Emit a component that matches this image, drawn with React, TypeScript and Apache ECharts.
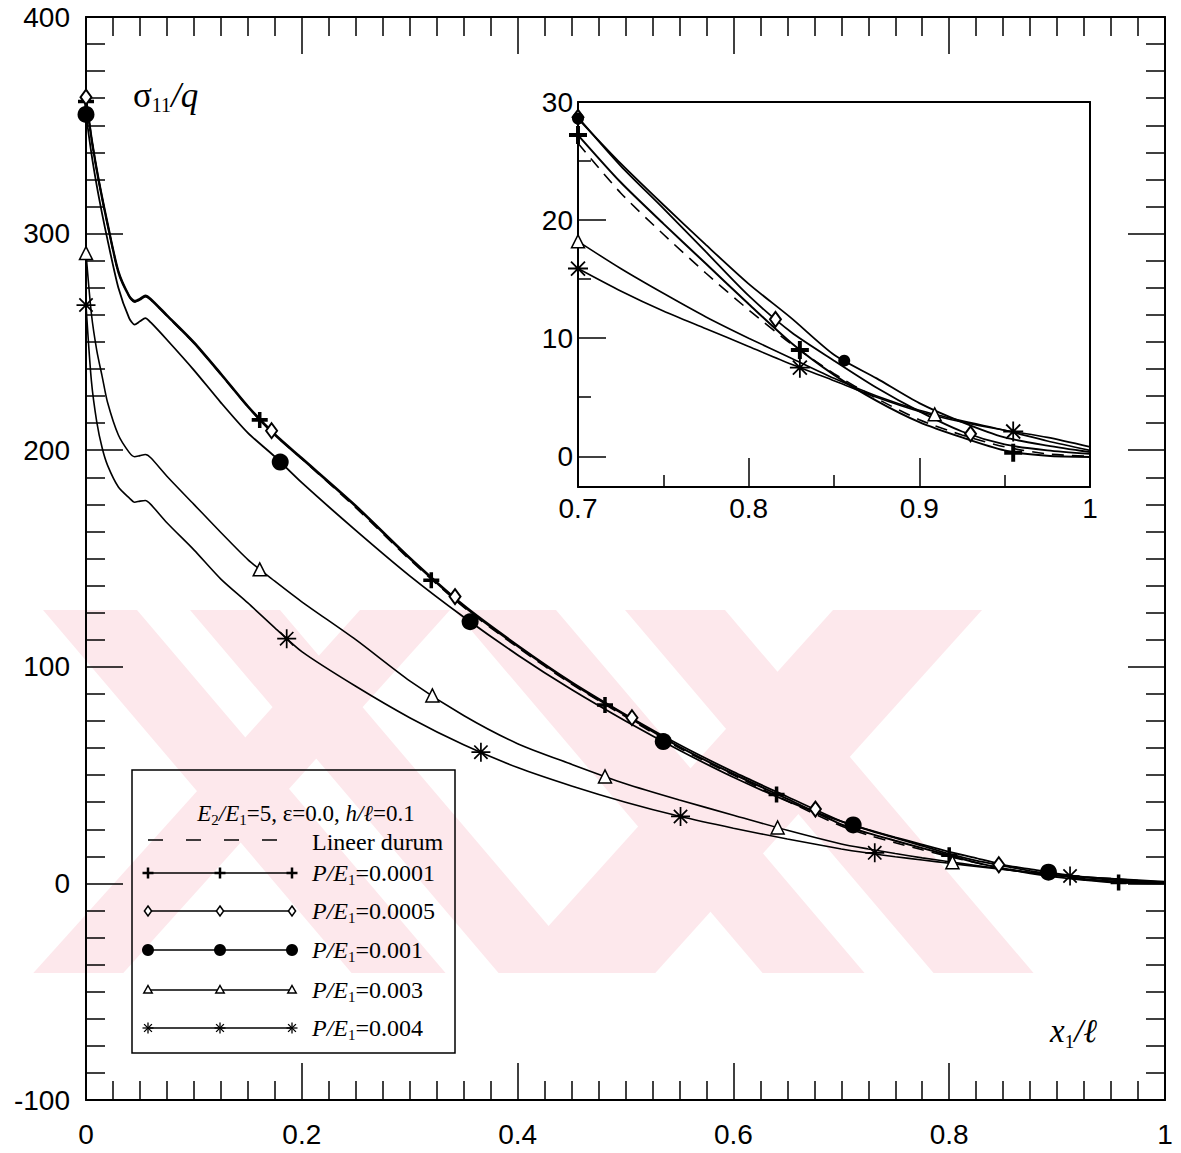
import React, { useEffect, useRef } from 'react';
import * as echarts from 'echarts';

// ---------- data ----------
const xs = [0, 0.005, 0.01, 0.015, 0.02, 0.03, 0.04, 0.045, 0.05, 0.055, 0.06, 0.075, 0.1, 0.125, 0.15, 0.175, 0.2, 0.25, 0.3, 0.35, 0.4, 0.45, 0.5, 0.55, 0.6, 0.65, 0.7, 0.725, 0.75, 0.775, 0.8, 0.825, 0.85, 0.875, 0.9, 0.925, 0.95, 0.975, 1.0];

const linY = [362, 344, 329, 316, 304, 282, 271, 268.5, 269.5, 271, 269.5, 262, 249.5, 235, 220, 207, 196, 173.5, 149.5, 127.5, 109, 92, 77, 62.5, 50, 38, 26.5, 22.3, 18.8, 15.5, 12.4, 9.5, 7.0, 4.9, 3.1, 1.8, 0.8, 0.2, 0];
const p0001Y = [362, 344, 329, 316, 304, 282, 271, 268.5, 269.5, 271, 269.5, 262, 249.5, 235, 220, 207, 196, 174, 150, 128, 109.5, 92.5, 77.5, 63, 50.5, 39, 27.2, 23.2, 19.7, 16.3, 12.9, 9.6, 6.9, 4.7, 2.9, 1.6, 0.5, 0.05, -0.05];
const p0005Y = [363, 345, 330, 317, 305, 283, 271.5, 269, 270, 271.5, 270, 262.5, 250, 235.5, 220.5, 207.5, 196.5, 174.5, 150.5, 128.5, 110, 93, 78, 64, 51.5, 40, 28.7, 24.6, 21.0, 17.3, 13.6, 10.5, 8.1, 5.8, 3.8, 2.1, 1.0, 0.5, 0.2];
const p001Y = [355, 337, 322, 309, 297, 275, 261, 258, 259.5, 261, 259, 251, 237, 222, 208, 197, 185, 163, 142, 123, 105.5, 89.5, 75, 61.5, 49, 38, 28.6, 24.8, 21.3, 17.9, 14.6, 11.7, 8.6, 6.6, 4.5, 2.9, 1.6, 0.9, 0.35];
const p003Y = [291, 263, 246, 234, 222, 207, 199, 197, 197.5, 198, 196.5, 188, 175, 162, 149.5, 139.5, 130, 112.5, 93.5, 77.5, 64.5, 55, 46, 38.5, 31.5, 24.5, 18.2, 15.9, 13.8, 11.8, 10.0, 8.3, 6.6, 5.1, 3.9, 3.0, 2.2, 1.3, 0.5];
const p004Y = [267, 232, 213, 201, 193, 183, 178, 176, 176.5, 176.8, 175, 166.5, 154, 140.5, 129.5, 118, 107, 91, 76.5, 64, 53.5, 45, 37.5, 31, 25.5, 20.5, 15.9, 14.0, 12.3, 10.8, 9.3, 7.8, 6.4, 5.0, 3.8, 2.9, 2.2, 1.6, 0.8];

// marker positions in the main plot
const p0001MkX = [0, 0.161, 0.32, 0.481, 0.64, 0.8, 0.957];
const p0001MkY = [361, 214, 140, 82.4, 41, 13, 0.4];
const p0005MkX = [0, 0.172, 0.342, 0.506, 0.676, 0.846];
const p0005MkY = [363, 209, 132.4, 76.5, 34.3, 8.6];
const p001MkX = [0, 0.18, 0.356, 0.535, 0.711, 0.892];
const p001MkY = [355, 194.5, 120.8, 65.5, 27, 5.2];
const p003MkX = [0, 0.161, 0.321, 0.481, 0.641, 0.803];
const p003MkY = [291, 145, 86.8, 49.4, 25.8, 9.8];
const p004MkX = [0, 0.186, 0.366, 0.551, 0.731, 0.912];
const p004MkY = [267, 113, 60.6, 30.9, 14.1, 3.4];

// marker positions in the inset
const p0001InX = [0.7, 0.83, 0.955];
const p0001InY = [27.2, 9.0, 0.3];
const p0005InX = [0.7, 0.8157, 0.93];
const p0005InY = [28.7, 11.6, 1.9];
const p001InX = [0.7, 0.856];
const p001InY = [28.6, 8.1];
const p003InX = [0.7, 0.909];
const p003InY = [18.2, 3.55];
const p004InX = [0.7, 0.83, 0.955];
const p004InY = [15.9, 7.5, 2.1];

const insetYLabels = [0, 10, 20, 30];
const insetYMajor = [0, 10, 20];
const insetYMinor = [5, 15, 25];

const legendLabels = ['Lineer durum', '0.0001', '0.0005', '0.001', '0.003', '0.004'];

// ---------- styles ----------
const SANS = '"Liberation Sans", Arial, sans-serif';
const SERIF = '"Liberation Serif", "Times New Roman", serif';
const PLUS = 'path://M3.9,0H6.1V3.9H10V6.1H6.1V10H3.9V6.1H0V3.9H3.9Z';
const STAR = 'path://M4.55,0H5.45V10H4.55Z M0,4.55H10V5.45H0Z M1.82,1.18L8.82,8.18L8.18,8.82L1.18,1.82Z M8.18,1.18L8.82,1.82L1.82,8.82L1.18,8.18Z';
const PINK = '#fde8ec';

const pairs = (a: number[], b: number[]) => a.map((x, i) => [x, b[i]]);

const curves = [
  { ys: linY, dash: true, width: 1.6 },
  { ys: p0001Y, dash: false, width: 2 },
  { ys: p0005Y, dash: false, width: 1.8 },
  { ys: p001Y, dash: false, width: 1.8 },
  { ys: p003Y, dash: false, width: 1.6 },
  { ys: p004Y, dash: false, width: 1.6 },
];

const markerSets = [
  { mx: p0001MkX, my: p0001MkY, ix: p0001InX, iy: p0001InY, symbol: PLUS, size: 16, inSize: 18, fill: '#000', bw: 0 },
  { mx: p0005MkX, my: p0005MkY, ix: p0005InX, iy: p0005InY, symbol: 'diamond', size: [11, 15], inSize: [11, 15], fill: '#fff', bw: 2 },
  { mx: p001MkX, my: p001MkY, ix: p001InX, iy: p001InY, symbol: 'circle', size: 17, inSize: 12, fill: '#000', bw: 0 },
  { mx: p003MkX, my: p003MkY, ix: p003InX, iy: p003InY, symbol: 'triangle', size: 13, inSize: 13, fill: '#fff', bw: 1.5 },
  { mx: p004MkX, my: p004MkY, ix: p004InX, iy: p004InY, symbol: STAR, size: 19, inSize: 20, fill: '#000', bw: 0 },
];

// background stamp: diagonal bands (top x-range, direction)
const stampTop = 610;
const stampBottom = 973;
const stampBands: [number, number, number][] = [
  [43, 137, 0.85], [190, 280, 0.85], [454, 556, 0.85], [625, 725, 0.85],
  [833, 982, -0.9], [360, 450, -0.9],
];

function buildOption() {
  const axisLine = { show: true, onZero: false, lineStyle: { color: '#000', width: 2 } };
  const tickStyle = { color: '#000', width: 1.5 };
  const labelStyle = { color: '#000', fontSize: 28, fontFamily: SANS };

  const xAxis: any[] = [
    {
      type: 'value', gridIndex: 0, position: 'bottom', min: 0, max: 1, interval: 0.2,
      axisLine, axisTick: { show: true, inside: true, length: 37, lineStyle: tickStyle },
      minorTick: { show: true, splitNumber: 8, length: 19, lineStyle: tickStyle },
      axisLabel: { ...labelStyle, margin: 20 }, splitLine: { show: false },
    },
    {
      type: 'value', gridIndex: 0, position: 'top', min: 0, max: 1, interval: 0.2,
      axisLine, axisTick: { show: true, inside: true, length: 37, lineStyle: tickStyle },
      minorTick: { show: true, splitNumber: 8, length: 19, lineStyle: tickStyle },
      axisLabel: { show: false }, splitLine: { show: false },
    },
    {
      type: 'value', gridIndex: 1, position: 'bottom', min: 0.7, max: 1, interval: 0.1,
      axisLine, axisTick: { show: true, inside: true, length: 29, lineStyle: tickStyle },
      minorTick: { show: true, splitNumber: 2, length: 12, lineStyle: tickStyle },
      axisLabel: { ...labelStyle, margin: 7 }, splitLine: { show: false },
    },
    {
      type: 'value', gridIndex: 1, position: 'top', min: 0.7, max: 1,
      axisLine, axisTick: { show: false }, axisLabel: { show: false }, splitLine: { show: false },
    },
  ];

  const yAxis: any[] = [
    {
      type: 'value', gridIndex: 0, position: 'left', min: -100, max: 400, interval: 100,
      axisLine, axisTick: { show: true, inside: true, length: 37, lineStyle: tickStyle },
      minorTick: { show: true, splitNumber: 8, length: 19, lineStyle: tickStyle },
      axisLabel: { ...labelStyle, margin: 16 }, splitLine: { show: false },
    },
    {
      type: 'value', gridIndex: 0, position: 'right', min: -100, max: 400, interval: 100,
      axisLine, axisTick: { show: true, inside: true, length: 37, lineStyle: tickStyle },
      minorTick: { show: true, splitNumber: 8, length: 19, lineStyle: tickStyle },
      axisLabel: { show: false }, splitLine: { show: false },
    },
    {
      type: 'value', gridIndex: 1, position: 'left', min: -2.6, max: 30,
      axisLine, axisTick: { show: true, inside: true, length: 28, lineStyle: tickStyle, customValues: insetYMajor },
      axisLabel: { ...labelStyle, margin: 5, customValues: insetYLabels }, splitLine: { show: false },
    },
    {
      type: 'value', gridIndex: 1, position: 'left', min: -2.6, max: 30,
      axisLine: { show: false }, axisTick: { show: true, inside: true, length: 13, lineStyle: tickStyle, customValues: insetYMinor },
      axisLabel: { show: false }, splitLine: { show: false },
    },
    {
      type: 'value', gridIndex: 1, position: 'right', min: -2.6, max: 30,
      axisLine, axisTick: { show: false }, axisLabel: { show: false }, splitLine: { show: false },
    },
  ];

  const series: any[] = [];
  curves.forEach((c) => {
    const full = pairs(xs, c.ys);
    const lineStyle = { color: '#000', width: c.width, type: c.dash ? [12, 8] : 'solid' };
    series.push({ type: 'line', xAxisIndex: 0, yAxisIndex: 0, data: full, showSymbol: false, smooth: 0.25, lineStyle, z: 2, silent: true });
    series.push({ type: 'line', xAxisIndex: 2, yAxisIndex: 2, data: full.filter((p) => p[0] >= 0.7 - 1e-9), showSymbol: false, smooth: 0.25, lineStyle, z: 2, clip: true, silent: true });
  });
  markerSets.forEach((m) => {
    const itemStyle = { color: m.fill, borderColor: '#000', borderWidth: m.bw, opacity: 1 };
    series.push({ type: 'scatter', xAxisIndex: 0, yAxisIndex: 0, data: pairs(m.mx, m.my), symbol: m.symbol, symbolSize: m.size, itemStyle, z: 4, silent: true });
    series.push({ type: 'scatter', xAxisIndex: 2, yAxisIndex: 2, data: pairs(m.ix, m.iy), symbol: m.symbol, symbolSize: m.inSize, itemStyle, z: 4, silent: true });
  });

  const g: any[] = [];
  // stamp in the background
  const hgt = stampBottom - stampTop;
  stampBands.forEach(([a, b, k]) => {
    g.push({
      type: 'polygon', z: -10, silent: true,
      shape: { points: [[a, stampTop], [b, stampTop], [b + k * hgt, stampBottom], [a + k * hgt, stampBottom]] },
      style: { fill: PINK },
    });
  });

  // ---------- legend (drawn) ----------
  const L = { left: 132, top: 770, w: 323, h: 283, x1: 148, x2: 292, tx: 312 };
  const rowY = [840, 873, 911, 950, 990, 1028];
  g.push({ type: 'rect', shape: { x: L.left, y: L.top, width: L.w, height: L.h }, style: { fill: 'none', stroke: '#000', lineWidth: 1.5 }, z: 10 });
  const serifTok = { fontFamily: SERIF, fontSize: 24, lineHeight: 28, fill: '#000' };
  const italTok = { ...serifTok, fontStyle: 'italic' };
  const subTok = { fontFamily: SERIF, fontSize: 15, lineHeight: 14, verticalAlign: 'bottom', fill: '#000' };
  g.push({
    type: 'text', z: 10, x: 306, y: 813,
    style: {
      text: '{i|E}{s|2}{i|/E}{s|1}{r|=5, ε=0.0, }{i|h/ℓ}{r|=0.1}',
      rich: { i: { ...italTok, fontSize: 23 }, r: { ...serifTok, fontSize: 23 }, s: subTok },
      align: 'center', verticalAlign: 'middle', fill: '#000',
    },
  });
  const markerShapes = (kind: number, cx: number, cy: number): any[] => {
    if (kind === 0) return [
      { type: 'line', shape: { x1: cx - 5.5, y1: cy, x2: cx + 5.5, y2: cy }, style: { stroke: '#000', lineWidth: 2.5 }, z: 11 },
      { type: 'line', shape: { x1: cx, y1: cy - 5.5, x2: cx, y2: cy + 5.5 }, style: { stroke: '#000', lineWidth: 2.5 }, z: 11 },
    ];
    if (kind === 1) return [{ type: 'polygon', shape: { points: [[cx, cy - 5], [cx + 3.6, cy], [cx, cy + 5], [cx - 3.6, cy]] }, style: { fill: '#fff', stroke: '#000', lineWidth: 1.5 }, z: 11 }];
    if (kind === 2) return [{ type: 'circle', shape: { cx, cy, r: 6 }, style: { fill: '#000' }, z: 11 }];
    if (kind === 3) return [{ type: 'polygon', shape: { points: [[cx, cy - 4.5], [cx + 4.2, cy + 3], [cx - 4.2, cy + 3]] }, style: { fill: '#fff', stroke: '#000', lineWidth: 1.5 }, z: 11 }];
    const r = 5.5, d = 3.9;
    return [
      [cx - r, cy, cx + r, cy], [cx, cy - r, cx, cy + r], [cx - d, cy - d, cx + d, cy + d], [cx - d, cy + d, cx + d, cy - d],
    ].map((p) => ({ type: 'line', shape: { x1: p[0], y1: p[1], x2: p[2], y2: p[3] }, style: { stroke: '#000', lineWidth: 1.3 }, z: 11 }));
  };
  legendLabels.forEach((lab, i) => {
    const y = rowY[i];
    if (i === 0) {
      g.push({ type: 'line', z: 10, shape: { x1: L.x1, y1: y, x2: L.x2, y2: y }, style: { stroke: '#000', lineWidth: 1.5, lineDash: [15, 23] } });
      g.push({ type: 'text', z: 10, x: L.tx, y: y + 2, style: { text: lab, font: `24px ${SERIF}`, fill: '#000', verticalAlign: 'middle' } });
    } else {
      g.push({ type: 'line', z: 10, shape: { x1: L.x1, y1: y, x2: L.x2, y2: y }, style: { stroke: '#000', lineWidth: 1.5 } });
      [L.x1, (L.x1 + L.x2) / 2, L.x2].forEach((cx) => g.push(...markerShapes(i - 1, cx, y)));
      g.push({
        type: 'text', z: 10, x: L.tx, y,
        style: { text: `{i|P/E}{s|1}{r|=${lab}}`, rich: { i: italTok, r: serifTok, s: subTok }, verticalAlign: 'middle', fill: '#000' },
      });
    }
  });

  // axis titles
  const tSym = { fontFamily: SERIF, fontSize: 35, lineHeight: 40, fill: '#000' };
  g.push({
    type: 'text', z: 10, x: 133, y: 95,
    style: { text: '{g|σ}{s|11}{i|/q}', rich: { g: tSym, i: { ...tSym, fontStyle: 'italic' }, s: { fontFamily: SERIF, fontSize: 20, lineHeight: 12, verticalAlign: 'bottom', fill: '#000' } }, verticalAlign: 'middle', fill: '#000' },
  });
  g.push({
    type: 'text', z: 10, x: 1050, y: 1031,
    style: { text: '{i|x}{s|1}{i|/ℓ}', rich: { i: { ...tSym, fontSize: 33, fontStyle: 'italic' }, s: { fontFamily: SERIF, fontSize: 19, lineHeight: 12, verticalAlign: 'bottom', fill: '#000' } }, verticalAlign: 'middle', fill: '#000' },
  });

  return {
    animation: false,
    backgroundColor: '#fff',
    grid: [
      { left: 86, top: 17, width: 1079, height: 1083 },
      { left: 578, top: 102, width: 512, height: 385 },
    ],
    xAxis, yAxis, series, graphic: g,
  };
}

export default function App() {
  const ref = useRef<HTMLDivElement>(null);
  useEffect(() => {
    const chart = echarts.init(ref.current as HTMLDivElement, null, { renderer: 'svg' });
    chart.setOption(buildOption() as any);
    return () => chart.dispose();
  }, []);
  return <div ref={ref} style={{ position: 'absolute', left: 0, top: 0, width: 1181, height: 1153, background: '#fff' }} />;
}
